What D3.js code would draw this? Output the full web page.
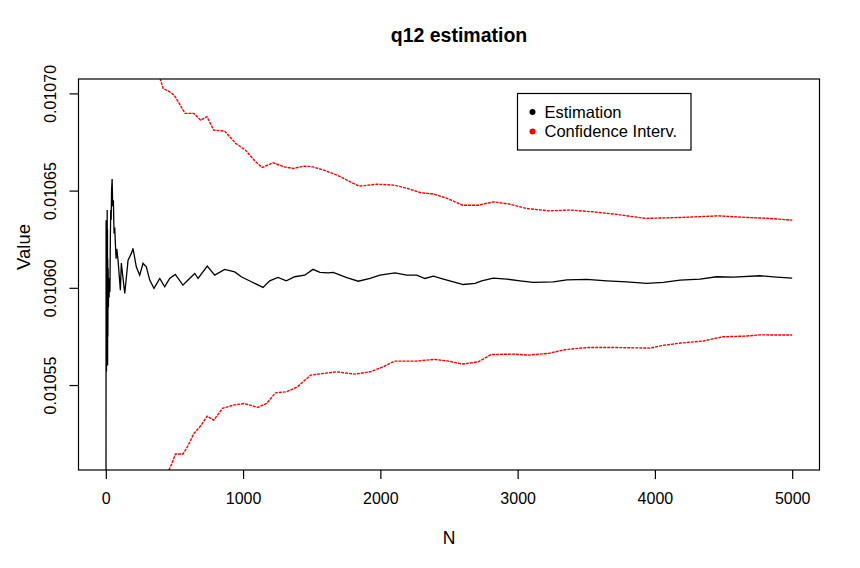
<!DOCTYPE html>
<html>
<head>
<meta charset="utf-8">
<script src="https://cdn.jsdelivr.net/npm/d3@7"></script>
<style>
  body { margin: 0; background: #fff; }
  svg { display: block; font-family: "Liberation Sans", Arial, sans-serif; }
</style>
</head>
<body>
<svg id="chart" width="860" height="568"></svg>
<script>
// estimation series (N, value)
var estN = [1, 2, 3, 4, 5, 6, 7, 8, 9, 10, 11, 12, 13, 14, 15, 17, 19, 21, 24, 27, 30, 33, 36, 39, 42, 46, 50, 55, 60, 65, 70, 75, 80,
  89, 106, 113, 138, 162, 186, 198, 222, 247, 271, 295, 320, 351, 393, 429, 465, 506, 562, 599, 648, 672, 739, 793, 866, 939, 987,
  1060, 1145, 1194, 1254, 1315, 1376, 1449, 1509, 1560, 1619, 1657, 1755, 1839, 1925, 1997, 2107, 2192, 2265, 2325, 2386, 2459,
  2532, 2604, 2690, 2738, 2823, 2920, 3017, 3114, 3260, 3358, 3503, 3649, 3795, 3940, 4061, 4183, 4329, 4450, 4571, 4766, 4887, 5000];
var estValue = [0.010400, 0.0106348, 0.010560, 0.010628, 0.010557, 0.010620, 0.010565, 0.010633, 0.010572, 0.010640, 0.010580,
  0.010630, 0.010560, 0.010615, 0.010575, 0.010610, 0.010590, 0.010605, 0.010595, 0.010602, 0.010598, 0.010625, 0.010640,
  0.010635, 0.010650, 0.010656, 0.010642, 0.010645, 0.010628, 0.010631, 0.010622, 0.010615, 0.010620,
  0.0106142, 0.0105988, 0.0106127, 0.0105971, 0.0106142, 0.0106177, 0.0106203, 0.0106108, 0.0106065, 0.0106126, 0.0106108,
  0.0106040, 0.0105997, 0.0106048, 0.0106005, 0.0106048, 0.0106069, 0.0106014, 0.0106040, 0.0106074, 0.0106048, 0.0106112,
  0.0106065, 0.0106095, 0.0106082, 0.0106057, 0.0106031, 0.0106002, 0.0106036, 0.0106053, 0.0106036, 0.0106057, 0.0106065,
  0.0106095, 0.0106079, 0.0106077, 0.0106079, 0.0106053, 0.0106034, 0.0106048, 0.0106065, 0.0106077, 0.0106065, 0.0106065,
  0.0106048, 0.0106060, 0.0106045, 0.0106031, 0.0106017, 0.0106023, 0.0106036, 0.0106050, 0.0106045, 0.0106036, 0.0106028,
  0.0106031, 0.0106041, 0.0106043, 0.0106036, 0.0106031, 0.0106023, 0.0106028, 0.0106040, 0.0106045, 0.0106057, 0.0106055,
  0.0106062, 0.0106055, 0.0106050];

// upper confidence bound
var upperN = [395, 417, 465, 497, 535, 577, 642, 690, 737, 786, 866, 946, 1017, 1091, 1139, 1219, 1300, 1364, 1444, 1508, 1588,
  1684, 1781, 1845, 1973, 2102, 2198, 2294, 2391, 2487, 2599, 2711, 2824, 2937, 3065, 3225, 3385, 3546, 3707, 3931, 4188,
  4460, 4669, 4830, 5000];
var upperValue = [0.0107077, 0.0107026, 0.0107008, 0.0106991, 0.0106949, 0.0106897, 0.0106897, 0.0106863, 0.0106880, 0.0106811,
  0.0106806, 0.0106743, 0.0106708, 0.0106648, 0.0106619, 0.0106643, 0.0106622, 0.0106614, 0.0106626, 0.0106622, 0.0106605,
  0.0106580, 0.0106545, 0.0106523, 0.0106533, 0.0106528, 0.0106511, 0.0106489, 0.0106482, 0.0106460, 0.0106425, 0.0106425,
  0.0106442, 0.0106431, 0.0106408, 0.0106396, 0.0106400, 0.0106391, 0.0106379, 0.0106357, 0.0106362, 0.0106370, 0.0106362,
  0.0106357, 0.0106348];

// lower confidence bound
var lowerN = [459, 482, 507, 562, 594, 642, 690, 738, 786, 850, 930, 1010, 1107, 1171, 1236, 1316, 1396, 1492, 1588, 1684, 1813,
  1925, 2022, 2102, 2262, 2391, 2487, 2599, 2711, 2808, 2969, 3081, 3225, 3353, 3514, 3707, 3963, 4059, 4188, 4348, 4493,
  4669, 4765, 5000];
var lowerValue = [0.0105062, 0.0105097, 0.0105145, 0.0105145, 0.0105182, 0.0105251, 0.0105289, 0.0105340, 0.0105319, 0.0105380,
  0.0105397, 0.0105405, 0.0105385, 0.0105405, 0.0105460, 0.0105465, 0.0105491, 0.0105551, 0.0105560, 0.0105568, 0.0105556,
  0.0105568, 0.0105594, 0.0105623, 0.0105623, 0.0105632, 0.0105624, 0.0105608, 0.0105619, 0.0105657, 0.0105659, 0.0105654,
  0.0105663, 0.0105683, 0.0105693, 0.0105693, 0.0105690, 0.0105704, 0.0105716, 0.0105726, 0.0105748, 0.0105752, 0.0105758,
  0.0105757];

var xTicks = [0, 1000, 2000, 3000, 4000, 5000];
var yTicks = [0.01055, 0.01060, 0.01065, 0.01070];
var legendLabels = ['Estimation', 'Confidence Interv.'];
var legendColors = ['#000000', '#ff0000'];

var svg = d3.select('#chart');
var box = { left: 78.5, right: 819.5, top: 79, bottom: 470 };

var x = d3.scaleLinear().domain([-199, 5199]).range([box.left, box.right]);
var y = d3.scaleLinear().domain([0.0105063, 0.0107074]).range([box.bottom, box.top]);

svg.append('rect').attr('width', 860).attr('height', 568).attr('fill', '#fff');

svg.append('defs').append('clipPath').attr('id', 'plotclip')
  .append('rect')
  .attr('x', box.left).attr('y', box.top)
  .attr('width', box.right - box.left).attr('height', box.bottom - box.top);

var plot = svg.append('g').attr('clip-path', 'url(#plotclip)');

var line = d3.line()
  .x(function(d) { return x(d[0]); })
  .y(function(d) { return y(d[1]); });

plot.append('path')
  .datum(d3.zip(upperN, upperValue))
  .attr('d', line)
  .attr('fill', 'none')
  .attr('stroke', '#ff0000')
  .attr('stroke-width', 1.4)
  .attr('stroke-dasharray', '3,1');

plot.append('path')
  .datum(d3.zip(lowerN, lowerValue))
  .attr('d', line)
  .attr('fill', 'none')
  .attr('stroke', '#ff0000')
  .attr('stroke-width', 1.4)
  .attr('stroke-dasharray', '3,1');

plot.append('path')
  .datum(d3.zip(estN, estValue))
  .attr('d', line)
  .attr('fill', 'none')
  .attr('stroke', '#000')
  .attr('stroke-width', 1.3)
  .attr('stroke-linejoin', 'miter');

// axes
var xAxis = svg.append('g')
  .attr('transform', 'translate(0,' + box.bottom + ')')
  .call(d3.axisBottom(x).tickValues(xTicks).tickSize(9).tickPadding(14).tickFormat(d3.format('d')));
xAxis.select('.domain').remove();
xAxis.selectAll('line').attr('stroke', '#000').attr('stroke-width', 1.2);
xAxis.selectAll('text').attr('font-size', '16px').attr('fill', '#000')
  .attr('font-family', '"Liberation Sans", Arial, sans-serif');

var yAxis = svg.append('g')
  .attr('transform', 'translate(' + box.left + ',0)')
  .call(d3.axisLeft(y).tickValues(yTicks).tickSize(9).tickFormat(d3.format('.5f')));
yAxis.select('.domain').remove();
yAxis.selectAll('line').attr('stroke', '#000').attr('stroke-width', 1.2);
yAxis.selectAll('text')
  .attr('font-size', '16px').attr('fill', '#000')
  .attr('font-family', '"Liberation Sans", Arial, sans-serif')
  .attr('transform', 'rotate(-90)')
  .attr('text-anchor', 'middle')
  .attr('x', 0)
  .attr('y', -22.5)
  .attr('dy', 0);

svg.append('rect')
  .attr('x', box.left).attr('y', box.top)
  .attr('width', box.right - box.left).attr('height', box.bottom - box.top)
  .attr('fill', 'none').attr('stroke', '#000').attr('stroke-width', 1.2);

// titles
svg.append('text')
  .attr('x', 459).attr('y', 42)
  .attr('text-anchor', 'middle')
  .attr('font-size', '19.5px').attr('font-weight', 'bold')
  .text('q12 estimation');

svg.append('text')
  .attr('x', 449).attr('y', 544)
  .attr('text-anchor', 'middle')
  .attr('font-size', '17.5px')
  .text('N');

svg.append('text')
  .attr('transform', 'translate(30,247) rotate(-90)')
  .attr('text-anchor', 'middle')
  .attr('font-size', '18.5px')
  .text('Value');

// legend
var legend = svg.append('g').attr('transform', 'translate(517.5,93.5)');
legend.append('rect')
  .attr('width', 173.5).attr('height', 56.5)
  .attr('fill', '#fff').attr('stroke', '#000').attr('stroke-width', 1.2);
var items = legend.selectAll('g.item')
  .data(legendLabels)
  .enter().append('g')
  .attr('class', 'item')
  .attr('transform', function(d, i) { return 'translate(0,' + (18.5 + i * 19.5) + ')'; });
items.append('circle')
  .attr('cx', 15).attr('cy', 0).attr('r', 3)
  .attr('fill', function(d, i) { return legendColors[i]; });
items.append('text')
  .attr('x', 27).attr('y', 5.5)
  .attr('font-size', '16.5px')
  .text(function(d) { return d; });
</script>
</body>
</html>
